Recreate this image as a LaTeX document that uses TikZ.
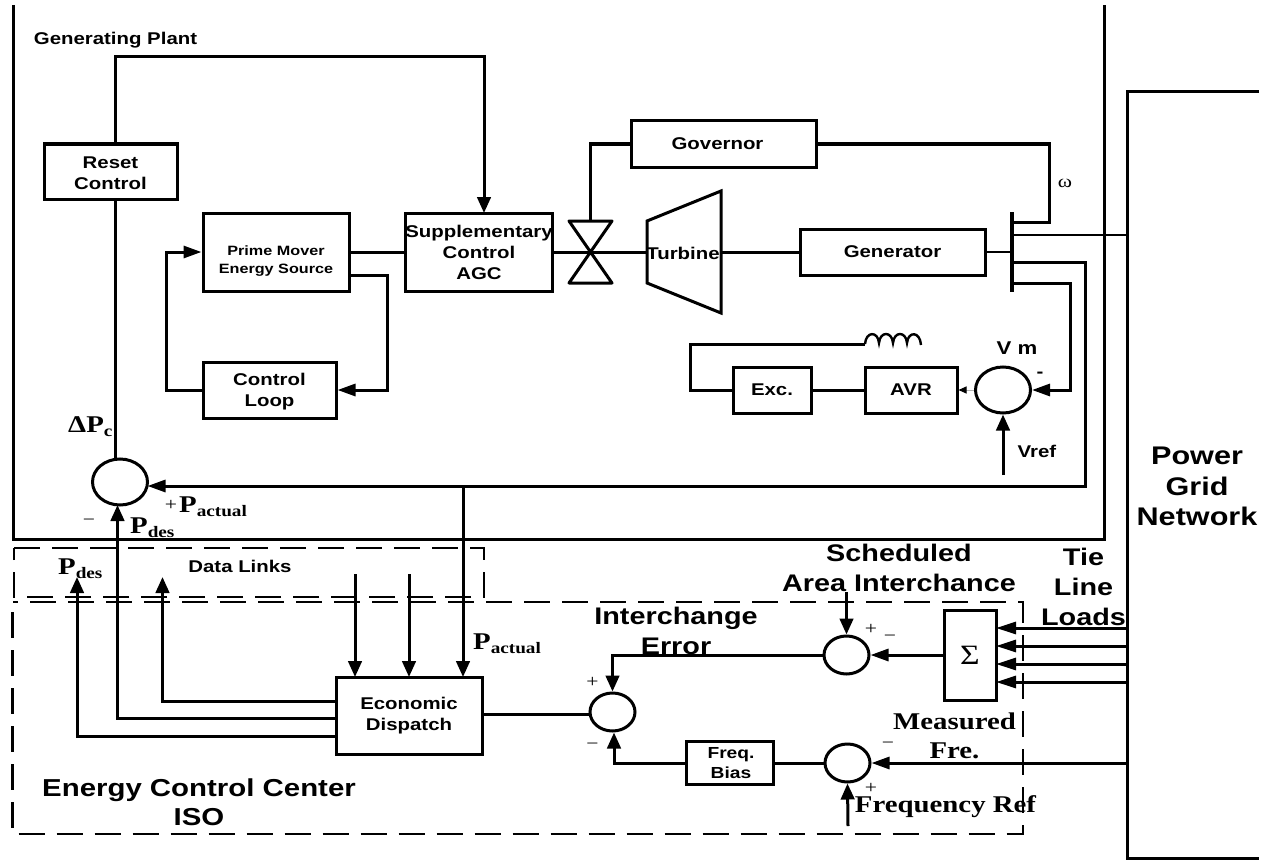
\documentclass[tikz,border=0pt]{standalone}
\usepackage{fontspec}
\setmainfont{Liberation Sans}[FakeStretch=1.2]
\newfontfamily\serifb{Liberation Serif}[FakeStretch=1.2]
\usetikzlibrary{arrows.meta,shapes.geometric}
\newcommand{\fsz}[2]{\fontsize{#1}{#2}\selectfont}
\newcommand{\PSub}[2]{{\serifb\bfseries\fsz{24}{24}#1\raisebox{-4.5pt}{\fsz{16}{16}#2}}}
\newcommand{\dn}[1]{\rule{0pt}{#1}}
\tikzset{
  ln/.style={line width=3pt,line join=miter},
  harr/.style={ln,-{Triangle[length=18pt,width=12pt]}},
  varr/.style={ln,-{Triangle[length=16pt,width=13.5pt]}},
  blk/.style={draw,line width=3pt,rectangle,inner sep=0pt,align=center,font=\bfseries\fsz{17}{21}},
  sumc/.style={draw,line width=3pt,ellipse,inner sep=0pt,minimum width=55pt,minimum height=46pt},
  sums/.style={sumc,minimum width=45pt,minimum height=38pt},
  dsh/.style={line width=2.8pt,dash pattern=on 26pt off 12pt},
  lab/.style={inner sep=0pt,align=center,font=\bfseries\fsz{17}{21}},
  big/.style={inner sep=0pt,align=center,font=\bfseries\fsz{24}{30}},
  srf/.style={inner sep=0pt,align=center,font=\serifb\bfseries\fsz{24}{29}},
  pm/.style={inner sep=0pt,font=\serifb\fsz{18}{18}},
  psub/.style={inner sep=0pt,anchor=base west},
}
\begin{document}
\begin{tikzpicture}[x=1pt,y=-1pt]
\useasboundingbox (0,0) rectangle (1263,864);
% frames
\coordinate (pTL) at (13,5); \coordinate (pBL) at (13,539);
\coordinate (pBR) at (1104.5,539); \coordinate (pTR) at (1104.5,5);
\draw[line width=3pt] (pTL) -- (pBL) -- (pBR) -- (pTR);
\coordinate (gA) at (1259,92); \coordinate (gB) at (1127.5,92);
\coordinate (gC) at (1127.5,858); \coordinate (gD) at (1259,858);
\draw[line width=3pt] (gA) -- (gB) -- (gC) -- (gD);
% dashed frames
\draw[dsh] (14,548) -- (484,548) -- (484,597) -- (14,597) -- cycle;
\draw[dsh] (12.5,612) -- (12.5,834) -- (1023,834) -- (1023,602) -- (12.5,602);
% blocks
\node[blk,minimum width=133pt,minimum height=55pt] (reset) at (110.5,171.5) {\dn{16pt}Reset\\Control};
\node[blk,minimum width=146pt,minimum height=78pt,font=\bfseries\fsz{13.5}{18}] (prime) at (276,252) {\dn{28pt}Prime Mover\\Energy Source};
\node[blk,minimum width=133pt,minimum height=56pt] (loop) at (269.5,390) {\dn{16pt}Control\\Loop};
\node[blk,minimum width=146pt,minimum height=78pt] (agc) at (479,252) {Supplementary\\Control\\AGC};
\node[blk,minimum width=185pt,minimum height=46pt] (gov) at (723.5,144) {Governor\hspace{12pt}};
\node[blk,minimum width=185pt,minimum height=46pt] (gen) at (892.5,252) {Generator};
\node[blk,minimum width=78pt,minimum height=46pt] (exc) at (772,390) {Exc.};
\node[blk,minimum width=92pt,minimum height=46pt] (avr) at (911,390) {AVR};
\node[blk,minimum width=146pt,minimum height=77pt] (ed) at (409,715.5) {Economic\hspace{4pt}\\Dispatch\hspace{4pt}};
\node[blk,minimum width=52pt,minimum height=90pt,font=\serifb\fsz{28}{28}] (sig) at (970,655) {Σ};
\node[blk,minimum width=87pt,minimum height=43pt,font=\bfseries\fsz{16}{20}] (bias) at (729.5,763) {\hspace{3pt}Freq.\\\hspace{3pt}Bias};
% summers
\node[sumc] (s1) at (120,482) {};
\node[sumc] (s2) at (1003,390) {};
\node[sums] (s3) at (846.5,655) {};
\node[sums] (s4) at (612.5,712) {};
\node[sums] (s5) at (847.5,763) {};
% valve
\coordinate (vL) at (569,221); \coordinate (vR) at (612,221);
\coordinate (wL) at (569,283); \coordinate (wR) at (612,283);
\coordinate (vM) at (590.5,252); \coordinate (vT) at (590.5,221);
\draw[ln,line join=round] (vL) -- (vR) -- (wL) -- (wR) -- cycle;
% turbine
\coordinate (tA) at (647,221); \coordinate (tB) at (721,191);
\coordinate (tC) at (721,313); \coordinate (tD) at (647,283);
\coordinate (tW) at (647,252); \coordinate (tE) at (721,252);
\draw[ln] (tA) -- (tB) -- (tC) -- (tD) -- cycle;
% bus
\coordinate (busT) at (1012,212); \coordinate (busB) at (1012,292);
\draw[line width=3.6pt] (busT) -- (busB);
\coordinate (busG) at (1012,252);
% plant connectors
\coordinate (r1) at (115,57); \coordinate (r2) at (484,57);
\coordinate (r0) at (115,144); \coordinate (r3) at (484,213);
\draw[varr] (r0) -- (r1) -- (r2) -- (r3);
\coordinate (r4) at (115,199); \coordinate (r5) at (115,459);
\draw[ln] (r4) -- (r5);
\draw[ln] (prime.east) -- (agc.west);
\coordinate (p1) at (349,275); \coordinate (p2) at (387,275);
\draw[harr] (p1) -- (p2) -- (loop.east -| p2) -- (loop.east);
\coordinate (p3) at (166,252);
\draw[harr] (loop.west) -- (loop.west -| p3) -- (p3) -- (prime.west);
\draw[ln] (agc.east) -- (tW);
\coordinate (g1) at (590.5,144);
\draw[ln] (vT) -- (g1) -- (gov.west);
\coordinate (g2) at (1049,144); \coordinate (g3) at (1049,222); \coordinate (g4) at (1012,222);
\draw[ln] (gov.east) -- (g2) -- (g3) -- (g4);
\draw[ln] (tE) -- (gen.west);
\draw[ln,line width=2.4pt] (gen.east) -- (busG);
\coordinate (b1) at (1012,235); \coordinate (b2) at (1127.5,235);
\draw[line width=2pt] (b1) -- (b2);
% measured power line
\coordinate (m0) at (1012,262); \coordinate (m1) at (1085,262);
\coordinate (m2) at (1085,486); \coordinate (m3) at (147.5,486);
\draw[harr] (m0) -- (m1) -- (m2) -- (m3);
% voltage
\coordinate (u0) at (1012,283); \coordinate (u1) at (1070,283);
\draw[harr] (u0) -- (u1) -- (s2.east -| u1) -- (s2.east);
\coordinate (vr) at (1003,475);
\draw[varr] (vr) -- (s2.south);
\draw[line width=1pt,gray!60,-{Triangle[length=8pt,width=7pt,fill=black,color=black]}] (s2.west) -- (avr.east);
\draw[ln] (avr.west) -- (exc.east);
\coordinate (e1) at (690,390); \coordinate (e2) at (690,344); \coordinate (e3) at (865,344);
\draw[ln] (exc.west) -- (e1) -- (e2) -- (e3);
\draw[line width=2.4pt] (e3) .. controls (866,331) and (878,331) .. (879,343)
  .. controls (880,331) and (892,331) .. (893,343)
  .. controls (894,331) and (906,331) .. (907,343)
  .. controls (908,331) and (920,331) .. (921,345);
% P actual
\coordinate (a1) at (463,486); \coordinate (a2) at (463,677);
\draw[varr] (a1) -- (a2);
% dispatch outputs
\coordinate (d1) at (336,736); \coordinate (d2) at (77,736); \coordinate (d3) at (77,577);
\draw[varr] (d1) -- (d2) -- (d3);
\coordinate (d4) at (336,718); \coordinate (d5) at (117.5,718); \coordinate (d6) at (117.5,505);
\draw[varr] (d4) -- (d5) -- (d6);
\coordinate (d7) at (336,701); \coordinate (d8) at (162.5,701); \coordinate (d9) at (162.5,577);
\draw[varr] (d7) -- (d8) -- (d9);
\coordinate (i1) at (355,574); \coordinate (i2) at (355,677);
\coordinate (i3) at (409,574); \coordinate (i4) at (409,677);
\draw[varr] (i1) -- (i2);
\draw[varr] (i3) -- (i4);
\coordinate (ee) at (482,714); \coordinate (ef) at (590,714);
\draw[ln] (ee) -- (ef);
% interchange
\coordinate (c1) at (612.5,655);
\draw[varr] (s3.west) -- (c1) -- (s4.north);
\draw[harr] (sig.west) -- (s3.east);
\coordinate (sc) at (846.5,592);
\draw[varr] (sc) -- (s3.north);
\foreach \yy/\nn in {628/ta,646/tb,664/tc,682/td}{
  \coordinate (\nn0) at (1127.5,\yy); \coordinate (\nn1) at (996,\yy);
  \draw[harr,-{Triangle[length=20pt,width=12pt]}] (\nn0) -- (\nn1);
}
% frequency
\coordinate (f0) at (1127.5,763);
\draw[harr] (f0) -- (s5.east);
\draw[ln] (s5.west) -- (bias.east);
\coordinate (f1) at (614,763);
\draw[varr] (bias.west) -- (f1) -- (s4.south -| f1);
\coordinate (fr) at (848,826);
\draw[varr] (fr) -- (s5.south);
% labels
\node[lab] (tgp) at (115.5,40) {Generating Plant};
\node[lab] (ttu) at (683,253) {Turbine};
\node[inner sep=0pt,font=\serifb\fsz{18}{18}] (tom) at (1065,183) {ω};
\node[lab,font=\bfseries\fsz{18.5}{20}] (tvm) at (1017,348) {V m};
\node[lab] (tvr) at (1037,451) {Vref};
\node[pm,font=\bfseries\fsz{17}{17}] (tmn) at (1040,375) {-};
\node[lab] (tdl) at (240,566) {Data Links};
\node[big,font=\bfseries\fsz{25.5}{30.5}] (tpg) at (1197,486.5) {Power\\Grid\\Network};
\node[big] (tsc) at (899,568) {Scheduled\\Area Interchance};
\node[big] (tti) at (1083.5,586.5) {Tie\\Line\\Loads};
\node[big] (tie) at (676,631) {Interchange\\Error};
\node[big,font=\bfseries\fsz{24.5}{29}] (tec) at (199,802.5) {Energy Control Center\\ISO};
\node[srf] (tmf) at (954.5,735.5) {Measured\\Fre.};
\node[srf] (tfq) at (945.5,807) {Frequency Ref};
\node[pm] (p1a) at (871,629) {+};
\node[pm] (p1b) at (890,638) {−};
\node[pm] (p2a) at (592.5,682) {+};
\node[pm] (p2b) at (592.5,746) {−};
\node[pm] (p3a) at (888,745) {−};
\node[pm] (p3b) at (871,788) {+};
\node[pm] (p4a) at (171,505) {+};
\node[pm] (p4b) at (89,522) {−};
\node[psub] (tpc) at (68,432) {\PSub{ΔP}{c}};
\node[psub] (tpd1) at (130,533) {\PSub{P}{des}};
\node[psub] (tpd2) at (58,574) {\PSub{P}{des}};
\node[psub] (tpa1) at (179,512) {\PSub{P}{actual}};
\node[psub] (tpa2) at (473,649) {\PSub{P}{actual}};
\end{tikzpicture}
\end{document}
